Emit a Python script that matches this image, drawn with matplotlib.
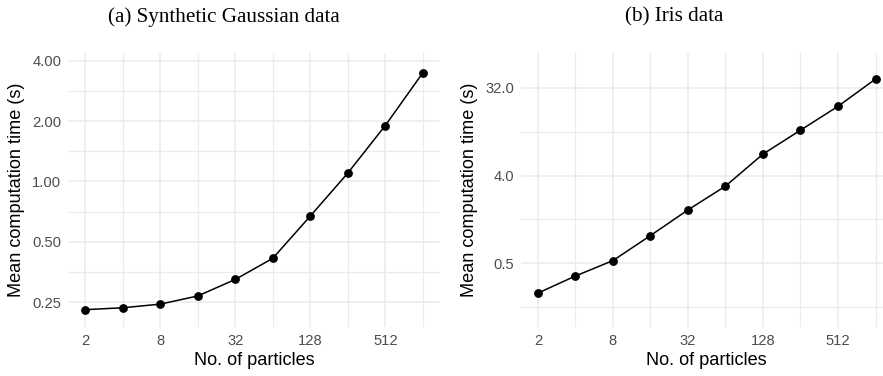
import numpy as np
import matplotlib.pyplot as plt
from matplotlib.ticker import FixedLocator, NullFormatter

# number of particles (log2 x axis)
particles = [2, 4, 8, 16, 32, 64, 128, 256, 512, 1024]

# mean computation time (s)
time_gauss = [0.229, 0.234, 0.244, 0.268, 0.324, 0.413, 0.671, 1.10, 1.90, 3.48]
time_iris = [0.247, 0.370, 0.533, 0.964, 1.77, 3.11, 6.64, 11.7, 20.6, 39.3]

x_ticks = [2, 8, 32, 128, 512]
x_ticklabels = ["2", "8", "32", "128", "512"]
y_ticks_gauss = [0.25, 0.5, 1.0, 2.0, 4.0]
y_ticklabels_gauss = ["0.25", "0.50", "1.00", "2.00", "4.00"]
y_ticks_iris = [0.5, 4.0, 32.0]
y_ticklabels_iris = ["0.5", "4.0", "32.0"]

titles = ["(a) Synthetic Gaussian data", "(b) Iris data"]

plt.rcParams['font.family'] = ['Liberation Sans', 'DejaVu Sans']

W, H = 883, 376
fig = plt.figure(figsize=(W / 100, H / 100), dpi=100)

grid_col = "#EBEBEB"
tick_col = "#4D4D4D"


def px_axes(left, top, right, bottom):
    return fig.add_axes([left / W, 1 - bottom / H, (right - left) / W, (bottom - top) / H])


def style_panel(ax, yvals, yticks, ylabels, ylim, yminor):
    ax.set_xscale('log', base=2)
    ax.set_yscale('log', base=2)
    ax.set_xlim(2 ** 0.55, 2 ** 10.45)
    ax.set_ylim(*ylim)
    ax.plot(particles, yvals, color='black', lw=1.1, marker='o', ms=5.3, zorder=3)
    ax.xaxis.set_major_locator(FixedLocator(x_ticks))
    ax.set_xticklabels(x_ticklabels)
    ax.xaxis.set_minor_locator(FixedLocator([4, 16, 64, 256, 1024]))
    ax.xaxis.set_minor_formatter(NullFormatter())
    ax.yaxis.set_major_locator(FixedLocator(yticks))
    ax.set_yticklabels(ylabels)
    ax.yaxis.set_minor_locator(FixedLocator(yminor))
    ax.yaxis.set_minor_formatter(NullFormatter())
    ax.grid(True, which='major', color=grid_col, lw=1.1)
    ax.grid(True, which='minor', color=grid_col, lw=0.9)
    ax.set_axisbelow(True)
    for s in ax.spines.values():
        s.set_visible(False)
    ax.tick_params(which='both', length=0)
    ax.tick_params(axis='both', labelsize=10.6, labelcolor=tick_col, pad=5)
    ax.set_xlabel("No. of particles", fontsize=13.1, labelpad=3)
    ax.set_ylabel("Mean computation time (s)", fontsize=13.1, labelpad=5)


ax1 = px_axes(68.3, 52.7, 439.7, 327)
style_panel(ax1, time_gauss, y_ticks_gauss, y_ticklabels_gauss,
            (2 ** -2.414, 2 ** 2.133),
            [2 ** -2.5, 2 ** -1.5, 2 ** -0.5, 2 ** 0.5, 2 ** 1.5])

ax2 = px_axes(521, 52.7, 892.4, 327)
style_panel(ax2, time_iris, y_ticks_iris, y_ticklabels_iris,
            (2 ** -3.176, 2 ** 6.196),
            [2 ** -2.5, 2 ** 0.5, 2 ** 3.5])

fig.text(224 / W, 1 - 21.7 / H, titles[0], family='Liberation Serif',
         fontsize=15.2, ha='center', va='baseline')
fig.text(674 / W, 1 - 21.7 / H, titles[1], family='Liberation Serif',
         fontsize=15.2, ha='center', va='baseline')

fig.savefig("out.png", dpi=100)
